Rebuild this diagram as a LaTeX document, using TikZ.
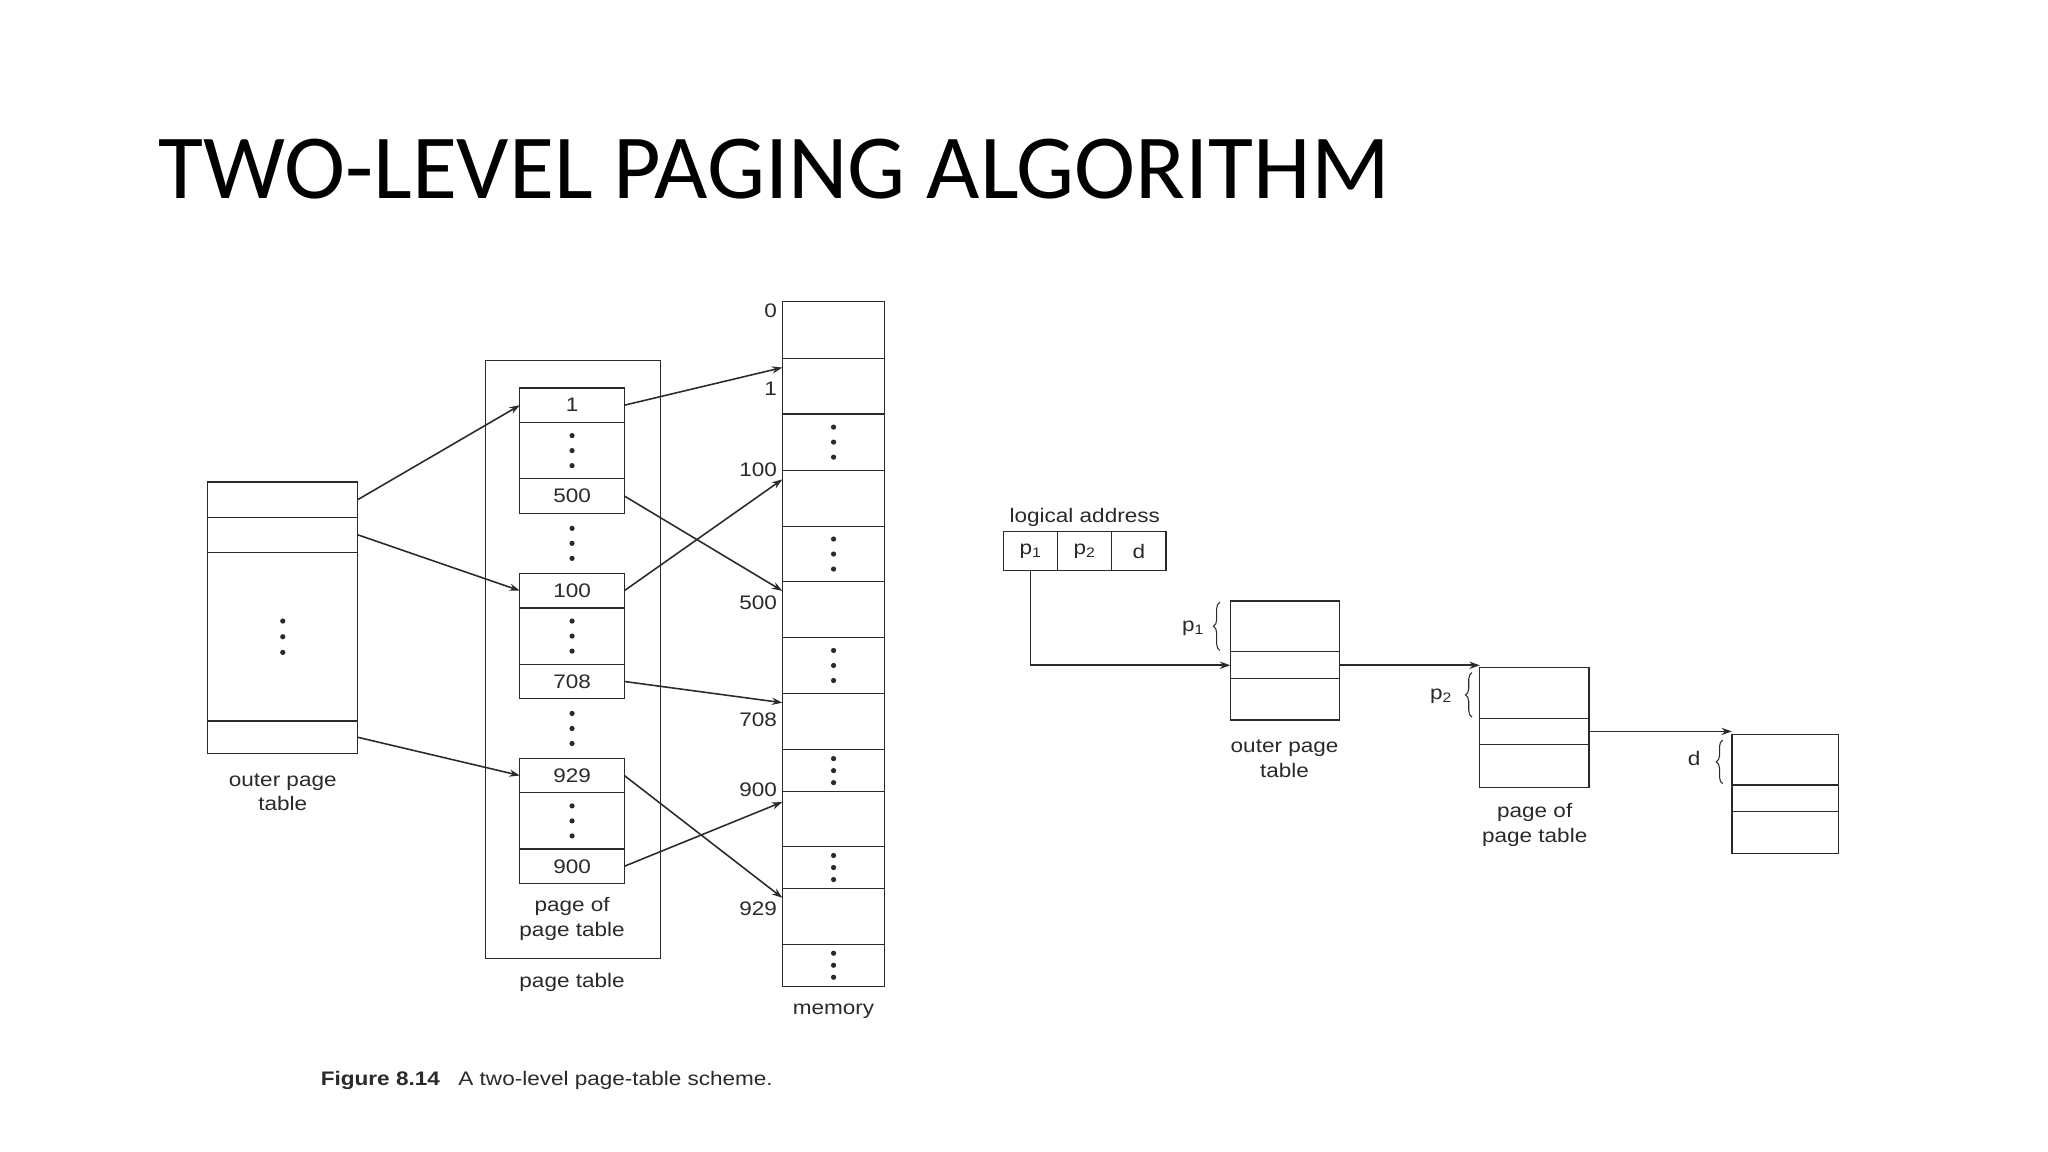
\documentclass[tikz,border=0pt]{standalone}
\usepackage{fontspec}
\setmainfont{Liberation Sans}[FakeStretch=1.15]
\newfontfamily\titlefont{Carlito}
\usepackage{graphicx}
\usetikzlibrary{arrows.meta,decorations.pathreplacing}
\definecolor{ln}{HTML}{2A2A2A}
\definecolor{tx}{HTML}{2A2A2A}
\newcommand{\lblfont}{\fontsize{15}{18.7}\selectfont}
\tikzset{
  cellbox/.style={draw=ln, line width=0.9pt, inner sep=0pt, outer sep=0pt, anchor=north west, font=\lblfont, text=tx},
  lbl/.style={inner sep=0pt, font=\lblfont, text=tx},
  arr/.style={draw=ln, line width=1.2pt, -{Stealth[length=8pt,width=5.5pt]}},
  brc/.style={draw=ln, line width=0.8pt, decorate, decoration={brace, amplitude=5pt}},
}
\newcommand{\threedots}[2]{\fill[ln] ([yshift=#2]#1.center) circle (2pt) (#1.center) circle (2pt) ([yshift=-#2]#1.center) circle (2pt);}
\begin{document}
\begin{tikzpicture}[x=1pt,y=-1pt]
\useasboundingbox (0,0) rectangle (1568,882);
\fill[white] (0,0) rectangle (1568,882);

% title
\node[anchor=base west, inner sep=0pt] (title) at (121,151.6) {\resizebox{942.6pt}{45.5pt}{\titlefont TWO-LEVEL PAGING ALGORITHM}};

% ---------- left figure ----------
% outer page table
\node[cellbox, minimum width=115pt, minimum height=27pt] (o1) at (159,369) {};
\node[cellbox, minimum width=115pt, minimum height=27pt] (o2) at (159,396) {};
\node[cellbox, minimum width=115pt, minimum height=129pt] (o3) at (159,423) {};
\node[cellbox, minimum width=115pt, minimum height=25pt] (o4) at (159,552) {};
\threedots{o3}{12pt}
\node[lbl, align=center] (olbl) at (216.5,606.5) {outer page\\table};

% page table frame
\node[draw=ln, line width=0.9pt, inner sep=0pt, anchor=north west, minimum width=133.6pt, minimum height=457.6pt] (pt) at (371.5,275.7) {};

% block 1
\node[cellbox, minimum width=80pt, minimum height=26.5pt] (c1) at (398,297) {1};
\node[cellbox, minimum width=80pt, minimum height=43pt] (c1d) at (398,323.5) {};
\node[cellbox, minimum width=80pt, minimum height=26.5pt] (c500) at (398,366.5) {500};
% block 2
\node[cellbox, minimum width=80pt, minimum height=26.5pt] (c100) at (398,439) {100};
\node[cellbox, minimum width=80pt, minimum height=43pt] (c2d) at (398,465.5) {};
\node[cellbox, minimum width=80pt, minimum height=26.5pt] (c708) at (398,508.5) {708};
% block 3
\node[cellbox, minimum width=80pt, minimum height=26.5pt] (c929) at (398,580.5) {929};
\node[cellbox, minimum width=80pt, minimum height=43pt] (c3d) at (398,607) {};
\node[cellbox, minimum width=80pt, minimum height=26.5pt] (c900) at (398,650) {900};
\threedots{c1d}{11.5pt}
\threedots{c2d}{11.5pt}
\threedots{c3d}{11.5pt}
\coordinate (g1) at (438,416);
\coordinate (g2) at (438,557.75);
\threedots{g1}{11.5pt}
\threedots{g2}{11.5pt}
\node[lbl, align=center] (pplbl) at (438,703.5) {page of\\page table};
\node[lbl] (ptlbl) at (438,752.4) {page table};

% memory
\node[cellbox, minimum width=78.4pt, minimum height=43.4pt] (m0) at (599,231) {};
\node[cellbox, minimum width=78.4pt, minimum height=42.6pt] (m1) at (599,274.4) {};
\node[cellbox, minimum width=78.4pt, minimum height=43pt] (md1) at (599,317) {};
\node[cellbox, minimum width=78.4pt, minimum height=43pt] (m100) at (599,360) {};
\node[cellbox, minimum width=78.4pt, minimum height=42.4pt] (md2) at (599,403) {};
\node[cellbox, minimum width=78.4pt, minimum height=42.6pt] (m500) at (599,445.4) {};
\node[cellbox, minimum width=78.4pt, minimum height=43pt] (md3) at (599,488) {};
\node[cellbox, minimum width=78.4pt, minimum height=43pt] (m708) at (599,531) {};
\node[cellbox, minimum width=78.4pt, minimum height=32pt] (md4) at (599,574) {};
\node[cellbox, minimum width=78.4pt, minimum height=42pt] (m900) at (599,606) {};
\node[cellbox, minimum width=78.4pt, minimum height=32.4pt] (md5) at (599,648) {};
\node[cellbox, minimum width=78.4pt, minimum height=42.6pt] (m929) at (599,680.4) {};
\node[cellbox, minimum width=78.4pt, minimum height=32pt] (md6) at (599,723) {};
\threedots{md1}{11.5pt}
\threedots{md2}{11.5pt}
\threedots{md3}{11.5pt}
\threedots{md4}{9.2pt}
\threedots{md5}{9.2pt}
\threedots{md6}{9.2pt}
\node[lbl] (memlbl) at (638.2,774.6) {memory};

% memory frame labels
\node[lbl, anchor=east] (l0) at (595,238) {0};
\node[lbl, anchor=east] (l1) at (595,298) {1};
\node[lbl, anchor=east] (l100) at (595,360) {100};
\node[lbl, anchor=east] (l500) at (595,461.5) {500};
\node[lbl, anchor=east] (l708) at (595,551) {708};
\node[lbl, anchor=east] (l900) at (595,605) {900};
\node[lbl, anchor=east] (l929) at (595,696) {929};

% arrows
\draw[arr] (o1.east) -- (c1.west);
\draw[arr] (o2.east) -- (c100.west);
\draw[arr] (o4.east) -- (c929.west);
\draw[arr] (c1.east) -- ([yshift=-7pt]m1.north west);
\draw[arr] (c500.east) -- ([yshift=-7pt]m500.north west);
\draw[arr] (c100.east) -- ([yshift=-7pt]m100.north west);
\draw[arr] (c708.east) -- ([yshift=-7pt]m708.north west);
\draw[arr] (c929.east) -- ([yshift=-7pt]m929.north west);
\draw[arr] (c900.east) -- ([yshift=-8pt]m900.north west);

% caption
\node[lbl, anchor=base west] (cap1) at (245.5,830.8) {\bfseries Figure 8.14};
\node[lbl, anchor=base west] (cap2) at (350.8,830.8) {A two-level page-table scheme.};

% ---------- right figure ----------
\node[lbl, anchor=base] (latxt) at (830.5,400.2) {logical address};
\node[cellbox, minimum width=41.5pt, minimum height=30pt] (la1) at (768.2,407.1) {p\textsubscript{1}};
\node[cellbox, minimum width=41.5pt, minimum height=30pt] (la2) at (809.7,407.1) {p\textsubscript{2}};
\node[cellbox, minimum width=41.5pt, minimum height=30pt] (la3) at (851.2,407.1) {d};

\node[cellbox, minimum width=83.5pt, minimum height=38.8pt] (r1a) at (942,460.2) {};
\node[cellbox, minimum width=83.5pt, minimum height=20.7pt] (r1b) at (942,499) {};
\node[cellbox, minimum width=83.5pt, minimum height=31.6pt] (r1c) at (942,519.7) {};
\node[lbl, align=center] (r1lbl) at (983.5,581) {outer page\\table};

\node[cellbox, minimum width=83.5pt, minimum height=38.8pt] (r2a) at (1133,511) {};
\node[cellbox, minimum width=83.5pt, minimum height=20.4pt] (r2b) at (1133,549.8) {};
\node[cellbox, minimum width=83.5pt, minimum height=32.6pt] (r2c) at (1133,570.2) {};
\node[lbl, align=center] (r2lbl) at (1175,631.5) {page of\\page table};

\node[cellbox, minimum width=81.6pt, minimum height=38.7pt] (r3a) at (1326,562.3) {};
\node[cellbox, minimum width=81.6pt, minimum height=20.2pt] (r3b) at (1326,601) {};
\node[cellbox, minimum width=81.6pt, minimum height=32.2pt] (r3c) at (1326,621.2) {};

\draw[arr] (la1.south) |- (r1b.west);
\draw[arr] (r1b.east) -- (r1b.east -| r2a.west);
\draw[arr] (r2b.east) -- (r2b.east -| r3a.west);

\draw[brc] (934,498) -- (934,461);
\draw[brc] (1127,549) -- (1127,515);
\draw[brc] (1319,600) -- (1319,566.6);
\node[lbl, anchor=east] (bp1) at (922,481) {p\textsubscript{1}};
\node[lbl, anchor=east] (bp2) at (1112,533) {p\textsubscript{2}};
\node[lbl, anchor=east] (bd) at (1302,580.5) {d};
\end{tikzpicture}
\end{document}
